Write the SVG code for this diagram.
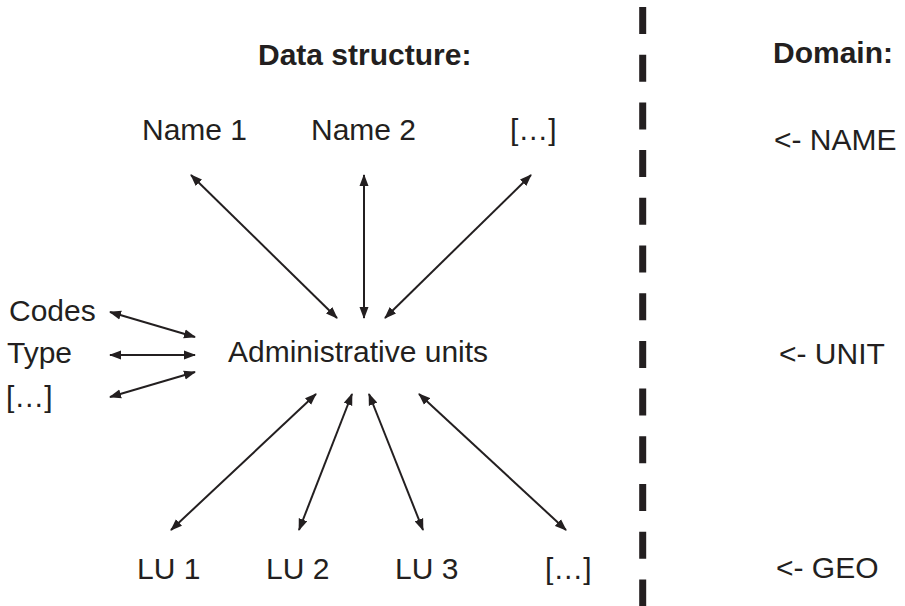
<svg xmlns="http://www.w3.org/2000/svg" width="905" height="606" viewBox="0 0 905 606">
<defs>
<marker id="ah" markerUnits="userSpaceOnUse" markerWidth="12" markerHeight="10" refX="11" refY="4.5" orient="auto-start-reverse" viewBox="0 0 12 9">
<path d="M0,0 L12,4.5 L0,9 z" fill="#231f20"/>
</marker>
</defs>
<style>
text{font-family:"Liberation Sans",Arial,sans-serif;font-size:30px;fill:#231f20}
.b{font-weight:bold}
.c line{stroke:#231f20;stroke-width:2;marker-start:url(#ah);marker-end:url(#ah)}
</style>
<rect width="905" height="606" fill="#fff"/>
<line x1="642.7" y1="7" x2="642.7" y2="606" stroke="#231f20" stroke-width="7" stroke-dasharray="27 20.7"/>
<g id="title-data"><text class="b" x="258" y="65">Data structure:</text></g>
<g id="title-domain"><text class="b" x="773" y="63">Domain:</text></g>
<g id="name1"><text x="142" y="140">Name 1</text></g>
<g id="name2"><text x="311" y="140">Name 2</text></g>
<g id="name3"><text x="510" y="140">[…]</text></g>
<g id="codes"><text x="9" y="321">Codes</text></g>
<g id="type"><text x="7" y="363">Type</text></g>
<g id="other"><text x="6" y="407">[…]</text></g>
<g id="admin"><text x="228" y="362">Administrative units</text></g>
<g id="lu1"><text x="137" y="579">LU 1</text></g>
<g id="lu2"><text x="266" y="579">LU 2</text></g>
<g id="lu3"><text x="395" y="579">LU 3</text></g>
<g id="lu4"><text x="545" y="579">[…]</text></g>
<g id="d-name"><text x="774" y="150">&lt;- NAME</text></g>
<g id="d-unit"><text x="779" y="364">&lt;- UNIT</text></g>
<g id="d-geo"><text x="776" y="578">&lt;- GEO</text></g>
<g class="c" id="connectors">
<line x1="191" y1="175" x2="337" y2="318"/>
<line x1="364" y1="175" x2="364" y2="318"/>
<line x1="531" y1="175" x2="385" y2="318"/>
<line x1="110" y1="312" x2="195" y2="337"/>
<line x1="110" y1="355" x2="195" y2="355"/>
<line x1="110" y1="397" x2="195" y2="372"/>
<line x1="316" y1="394" x2="171" y2="530"/>
<line x1="352" y1="394" x2="299" y2="530"/>
<line x1="369" y1="394" x2="423" y2="530"/>
<line x1="419" y1="394" x2="566" y2="530"/>
</g>
</svg>
